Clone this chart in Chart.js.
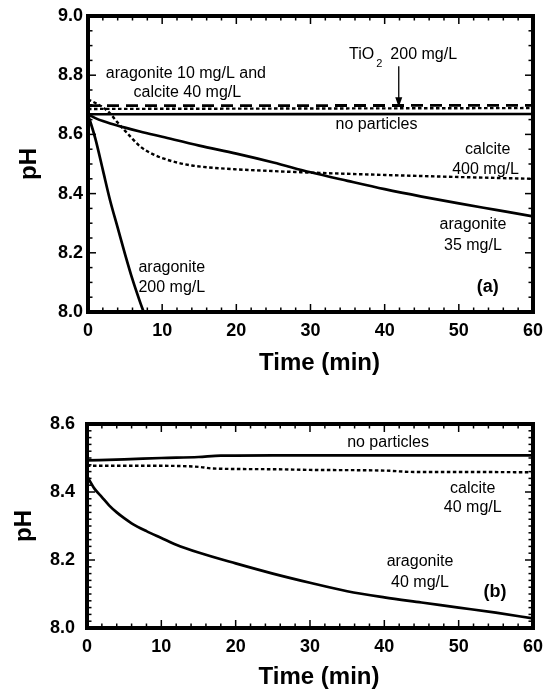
<!DOCTYPE html>
<html>
<head>
<meta charset="utf-8">
<script src="https://cdn.jsdelivr.net/npm/chart.js@4.4.1/dist/chart.umd.min.js"></script>
<style>
  body { margin: 0; background: #fff; }
  .panel { position: absolute; left: 0; }
  #panelA { top: 0; }
  #panelB { top: 380px; }
</style>
</head>
<body>
<div class="panel" id="panelA"><canvas id="chartA" width="551" height="380"></canvas></div>
<div class="panel" id="panelB"><canvas id="chartB" width="551" height="309"></canvas></div>
<script>
// ---- panel (a) ----
const flatTimeA = [0, 60];
const noParticlesA = [8.668, 8.669];
const tio2A = [8.697, 8.698];
const mixA = [8.686, 8.689];

const calcite400Time = [0, 1, 2, 3, 4, 5, 6, 7, 8, 9, 10, 12, 14, 16, 20, 25, 30, 40, 50, 60];
const calcite400 = [8.718, 8.706, 8.692, 8.67, 8.64, 8.612, 8.585, 8.56, 8.543, 8.53, 8.52,
                    8.505, 8.495, 8.489, 8.482, 8.476, 8.471, 8.463, 8.456, 8.45];

const aragonite35Time = [0, 1, 2, 3, 5, 7, 10, 15, 20, 25, 30, 35, 40, 45, 50, 55, 60];
const aragonite35 = [8.668, 8.655, 8.645, 8.637, 8.623, 8.61, 8.592, 8.562, 8.535, 8.505,
                     8.472, 8.443, 8.415, 8.39, 8.367, 8.345, 8.323];

const aragonite200Time = [0, 1, 2, 3, 4, 5, 6, 7, 7.5];
const aragonite200 = [8.668, 8.585, 8.48, 8.375, 8.285, 8.195, 8.11, 8.035, 8.0];

// ---- panel (b) ----
const noParticlesBTime = [0, 5, 10, 15, 18, 20, 30, 40, 50, 60];
const noParticlesB = [8.493, 8.496, 8.5, 8.503, 8.507, 8.507, 8.508, 8.508, 8.508, 8.508];

const calcite40Time = [0, 10, 15, 17, 25, 30, 40, 44, 50, 60];
const calcite40 = [8.477, 8.477, 8.474, 8.469, 8.467, 8.465, 8.463, 8.459, 8.459, 8.458];

const aragonite40Time = [0, 1, 2, 3, 4, 5, 6, 8, 10, 12, 15, 20, 25, 30, 35, 40, 45, 50, 55, 60];
const aragonite40 = [8.447, 8.41, 8.385, 8.36, 8.34, 8.323, 8.308, 8.285, 8.265, 8.245, 8.222,
                     8.19, 8.16, 8.133, 8.108, 8.09, 8.075, 8.06, 8.045, 8.028];

const FONT = '"Liberation Sans", Arial, Helvetica, sans-serif';

function pts(ts, ys) {
  return ts.map((t, i) => ({ x: t, y: ys[i] }));
}

function solid(data) {
  return { data, borderColor: '#000', borderWidth: 2.7, pointRadius: 0,
           cubicInterpolationMode: 'monotone', fill: false };
}
function dotted(data) {
  return { data, borderColor: '#000', borderWidth: 2.4, borderDash: [3.5, 2.5], pointRadius: 0,
           cubicInterpolationMode: 'monotone', fill: false };
}
function dashed(data) {
  return { data, borderColor: '#000', borderWidth: 2.8, borderDash: [12, 7], pointRadius: 0,
           fill: false };
}

function isMultiple(v, step) {
  const r = v / step;
  return Math.abs(r - Math.round(r)) < 1e-6;
}

// frame, inward ticks, axis titles and curve labels
const framePlugin = {
  id: 'frame',
  afterDatasetsDraw(chart, args, o) {
    const { ctx, chartArea: a, scales: { x, y } } = chart;
    ctx.save();
    ctx.strokeStyle = '#000';
    ctx.fillStyle = '#000';
    ctx.lineWidth = 1.5;
    const seg = (x1, y1, x2, y2) => {
      ctx.beginPath(); ctx.moveTo(x1, y1); ctx.lineTo(x2, y2); ctx.stroke();
    };
    for (let v = x.min; v <= x.max + 1e-9; v += o.xMinor) {
      const px = x.getPixelForValue(v);
      const len = isMultiple(v, o.xMajor) ? 8 : 4.5;
      seg(px, a.bottom, px, a.bottom - len);
      seg(px, a.top, px, a.top + len);
    }
    for (let v = y.min; v <= y.max + 1e-9; v += o.yMinor) {
      const py = y.getPixelForValue(v);
      const len = isMultiple(v - y.min, o.yMajor) ? 8 : 4.5;
      seg(a.left, py, a.left + len, py);
      seg(a.right, py, a.right - len, py);
    }
    ctx.lineWidth = 4;
    ctx.strokeRect(a.left, a.top, a.right - a.left, a.bottom - a.top);

    // axis titles
    ctx.font = 'bold 24px ' + FONT;
    ctx.textAlign = 'center';
    ctx.textBaseline = 'middle';
    ctx.fillText('Time (min)', (a.left + a.right) / 2 + 9, a.bottom + o.titleGap);
    ctx.save();
    ctx.translate(o.phX, (a.top + a.bottom) / 2);
    ctx.rotate(-Math.PI / 2);
    ctx.fillText('pH', 0, 0);
    ctx.restore();

    // curve labels
    for (const n of o.notes) {
      ctx.font = (n.bold ? 'bold 18px ' : '16px ') + FONT;
      ctx.textAlign = 'center';
      ctx.fillText(n.text, x.getPixelForValue(n.t), y.getPixelForValue(n.ph));
    }

    if (o.tio2) {
      const n = o.tio2;
      let px = x.getPixelForValue(n.t);
      const py = y.getPixelForValue(n.ph);
      ctx.textAlign = 'left';
      ctx.font = '16px ' + FONT;
      ctx.fillText('TiO', px, py);
      px += ctx.measureText('TiO').width + 2;
      ctx.font = '11px ' + FONT;
      ctx.fillText('2', px, py + 9);
      px += ctx.measureText('2').width + 8;
      ctx.font = '16px ' + FONT;
      ctx.fillText('200 mg/L', px, py);

      // arrow down to the dashed TiO2 line
      const ax = x.getPixelForValue(n.arrowT);
      const y1 = y.getPixelForValue(n.arrowFrom);
      const y2 = y.getPixelForValue(n.arrowTo);
      ctx.lineWidth = 1.3;
      seg(ax, y1, ax, y2 - 6);
      ctx.beginPath();
      ctx.moveTo(ax, y2);
      ctx.lineTo(ax - 3.5, y2 - 10);
      ctx.lineTo(ax + 3.5, y2 - 10);
      ctx.closePath();
      ctx.fill();
    }
    ctx.restore();
  }
};

function makeChart(id, cfg) {
  return new Chart(document.getElementById(id), {
    type: 'line',
    data: { datasets: cfg.datasets },
    plugins: [framePlugin],
    options: {
      responsive: false,
      animation: false,
      layout: { padding: cfg.padding },
      plugins: { legend: { display: false }, tooltip: { enabled: false }, frame: cfg.frame },
      scales: {
        x: {
          type: 'linear', min: 0, max: 60,
          grid: { display: false, drawTicks: false }, border: { display: false },
          ticks: { stepSize: 10, color: '#000', padding: 8, maxRotation: 0,
                   font: { family: FONT, size: 18, weight: 'bold' } },
          afterFit: s => { s.height = cfg.xHeight; }
        },
        y: {
          min: cfg.yMin, max: cfg.yMax,
          grid: { display: false, drawTicks: false }, border: { display: false },
          ticks: { stepSize: 0.2, color: '#000', padding: cfg.yPad,
                   font: { family: FONT, size: 18, weight: 'bold' },
                   callback: v => v.toFixed(1) },
          afterFit: s => { s.width = cfg.yWidth; }
        }
      }
    }
  });
}

makeChart('chartA', {
  datasets: [
    solid(pts(flatTimeA, noParticlesA)),
    dashed(pts(flatTimeA, tio2A)),
    dotted(pts(flatTimeA, mixA)),
    dotted(pts(calcite400Time, calcite400)),
    solid(pts(aragonite35Time, aragonite35)),
    solid(pts(aragonite200Time, aragonite200))
  ],
  padding: { left: 0, top: 16, right: 13, bottom: 0 },
  xHeight: 68, yWidth: 88, yPad: 5, yMin: 8.0, yMax: 9.0,
  frame: {
    xMajor: 10, xMinor: 2, yMajor: 0.2, yMinor: 0.05, titleGap: 51, phX: 29,
    notes: [
      { text: 'aragonite 10 mg/L and', t: 13.2, ph: 8.807 },
      { text: 'calcite 40 mg/L', t: 13.4, ph: 8.74 },
      { text: 'no particles', t: 38.9, ph: 8.632 },
      { text: 'calcite', t: 53.9, ph: 8.547 },
      { text: '400 mg/L', t: 53.6, ph: 8.48 },
      { text: 'aragonite', t: 51.9, ph: 8.294 },
      { text: '35 mg/L', t: 51.9, ph: 8.226 },
      { text: 'aragonite', t: 11.3, ph: 8.149 },
      { text: '200 mg/L', t: 11.3, ph: 8.081 },
      { text: '(a)', t: 53.9, ph: 8.084, bold: true }
    ],
    tio2: { t: 35.2, ph: 8.868, arrowT: 41.9, arrowFrom: 8.83, arrowTo: 8.692 }
  }
});

makeChart('chartB', {
  datasets: [
    solid(pts(noParticlesBTime, noParticlesB)),
    dotted(pts(calcite40Time, calcite40)),
    solid(pts(aragonite40Time, aragonite40))
  ],
  padding: { left: 0, top: 44, right: 15, bottom: 0 },
  xHeight: 61, yWidth: 87, yPad: 12, yMin: 8.0, yMax: 8.6,
  frame: {
    xMajor: 10, xMinor: 2, yMajor: 0.2, yMinor: 0.02, titleGap: 49, phX: 24,
    notes: [
      { text: 'no particles', t: 40.5, ph: 8.544 },
      { text: 'calcite', t: 51.9, ph: 8.409 },
      { text: '40 mg/L', t: 51.9, ph: 8.353 },
      { text: 'aragonite', t: 44.8, ph: 8.194 },
      { text: '40 mg/L', t: 44.8, ph: 8.135 },
      { text: '(b)', t: 54.9, ph: 8.106, bold: true }
    ]
  }
});
</script>
</body>
</html>
